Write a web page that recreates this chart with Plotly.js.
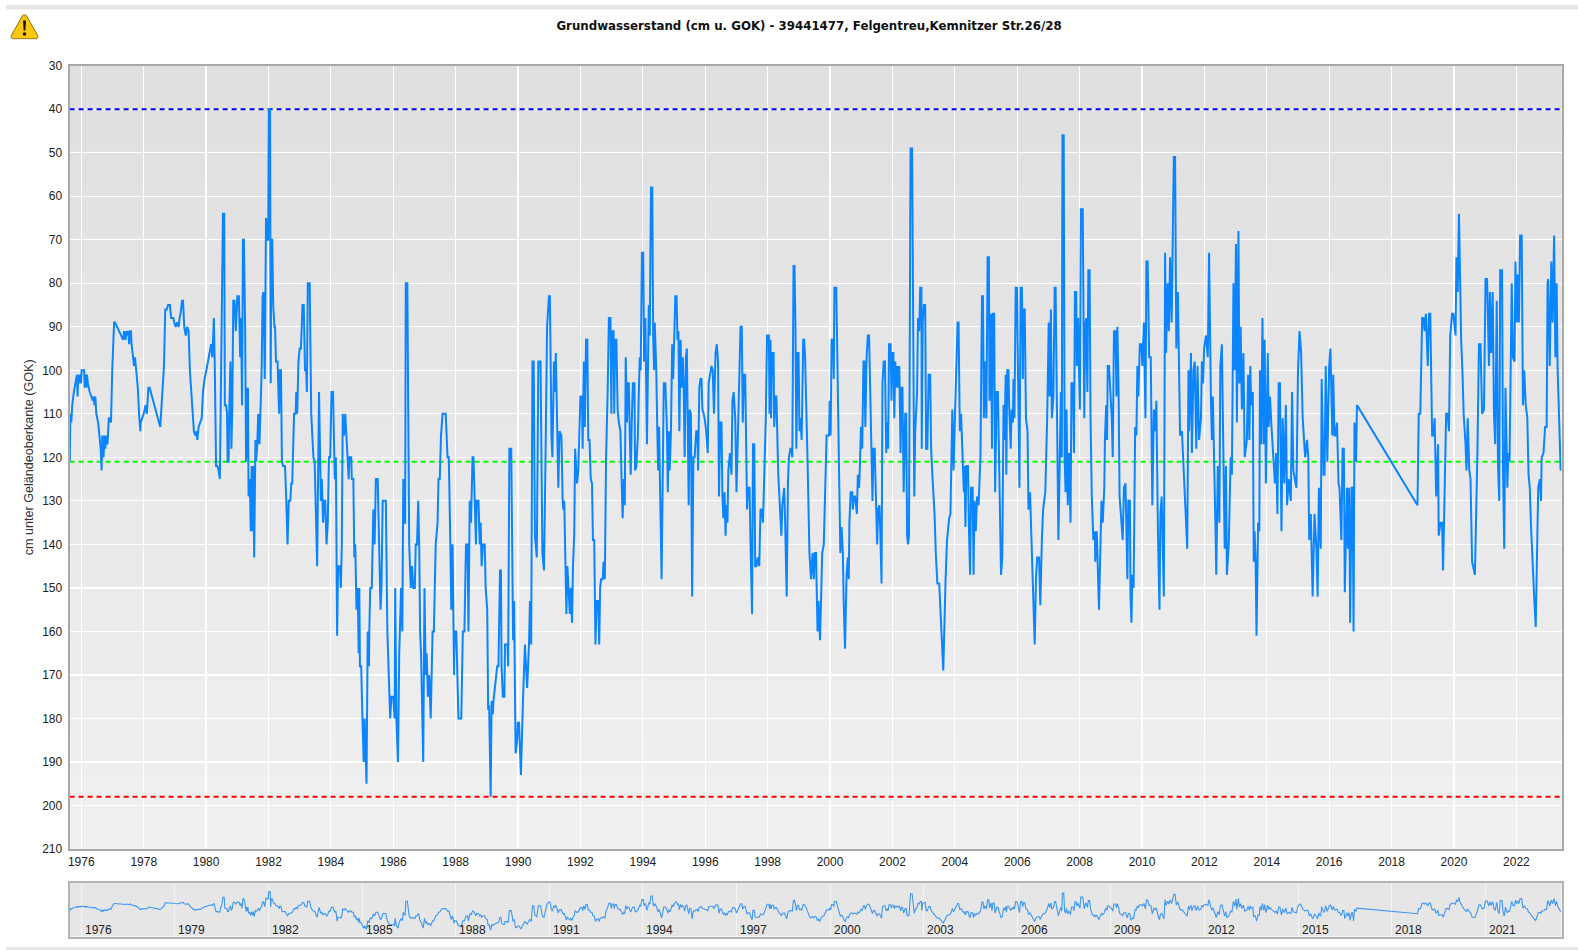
<!DOCTYPE html>
<html><head><meta charset="utf-8">
<script src="https://cdn.plot.ly/plotly-3.0.1.min.js"></script>
<style>html,body{margin:0;padding:0;background:#fff}#chart{width:1578px;height:950px}</style>
</head><body><div id="chart"></div>
<script>
const chartTitle = "Grundwasserstand (cm u. GOK) - 39441477, Felgentreu,Kemnitzer Str.26/28";
const yAxisTitle = "cm unter Geländeoberkante (GOK)";
const highLevel = 40, meanLevel = 121, lowLevel = 198;
const overviewYears = [1976,1979,1982,1985,1988,1991,1994,1997,2000,2003,2006,2009,2012,2015,2018,2021];

// [decimal year, cm below ground]
const levels1975to1979 = [[1975.63,121],[1975.65,110],[1975.68,112],[1975.71,108],[1975.76,105],[1975.82,103],[1975.86,101],[1975.88,106],[1975.90,101],[1975.95,103],[1975.97,101],[1975.99,103],[1976.01,100],[1976.09,100],[1976.11,104],[1976.14,101],[1976.16,104],[1976.18,101],[1976.21,103],[1976.27,105],[1976.32,106],[1976.37,107],[1976.40,106],[1976.42,108],[1976.45,106],[1976.48,110],[1976.54,112],[1976.59,115],[1976.62,118],[1976.65,123],[1976.67,115],[1976.71,120],[1976.74,115],[1976.77,118],[1976.80,115],[1976.84,117],[1976.88,111],[1976.91,111],[1976.95,112],[1976.99,100],[1977.05,89],[1977.08,89],[1977.34,93],[1977.37,91],[1977.42,93],[1977.44,91],[1977.47,92],[1977.51,91],[1977.53,94],[1977.56,91],[1977.59,91],[1977.61,94],[1977.66,97],[1977.69,99],[1977.72,97],[1977.75,99],[1977.81,104],[1977.85,110],[1977.89,114],[1977.90,112],[1977.96,111],[1978.00,110],[1978.06,108],[1978.10,110],[1978.15,104],[1978.19,104],[1978.53,113],[1978.56,110],[1978.61,103],[1978.65,99],[1978.69,86],[1978.74,86],[1978.78,85],[1978.84,85],[1978.88,88],[1978.95,88],[1978.98,89],[1979.02,90],[1979.07,89],[1979.12,90],[1979.15,88],[1979.18,87],[1979.23,84],[1979.26,84],[1979.30,90],[1979.35,92],[1979.39,90],[1979.44,91],[1979.48,100],[1979.53,106],[1979.57,110],[1979.61,114],[1979.65,115],[1979.69,114],[1979.72,116],[1979.76,113],[1979.81,112],[1979.86,111],[1979.90,105],[1979.95,102]];
const levels1980to1983 = [[1980.01,100],[1980.09,97],[1980.16,94],[1980.20,97],[1980.25,88],[1980.28,100],[1980.32,122],[1980.36,122],[1980.40,123],[1980.44,125],[1980.47,105],[1980.50,98],[1980.54,64],[1980.58,64],[1980.60,108],[1980.64,108],[1980.67,110],[1980.69,121],[1980.72,121],[1980.74,110],[1980.78,98],[1980.81,118],[1980.84,108],[1980.87,84],[1980.91,84],[1980.95,91],[1981.00,83],[1981.05,83],[1981.09,97],[1981.12,88],[1981.15,108],[1981.18,70],[1981.21,70],[1981.25,90],[1981.28,121],[1981.30,104],[1981.32,120],[1981.34,104],[1981.36,129],[1981.40,125],[1981.43,137],[1981.46,122],[1981.49,137],[1981.51,122],[1981.54,143],[1981.58,116],[1981.60,121],[1981.64,117],[1981.67,110],[1981.71,117],[1981.74,110],[1981.78,100],[1981.81,83],[1981.84,82],[1981.88,102],[1981.92,65],[1981.95,70],[1981.99,70],[1982.01,40],[1982.05,40],[1982.07,103],[1982.09,70],[1982.12,70],[1982.15,85],[1982.19,90],[1982.21,90],[1982.24,98],[1982.29,98],[1982.34,110],[1982.36,100],[1982.40,100],[1982.43,121],[1982.47,122],[1982.53,122],[1982.57,130],[1982.61,140],[1982.65,130],[1982.70,130],[1982.73,126],[1982.76,126],[1982.82,110],[1982.87,110],[1982.89,105],[1982.92,110],[1982.96,98],[1983.00,95],[1983.04,95],[1983.09,85],[1983.13,85],[1983.17,100],[1983.21,100],[1983.23,105],[1983.26,80],[1983.32,80],[1983.37,110],[1983.44,120],[1983.48,121],[1983.51,130],[1983.56,145],[1983.62,105],[1983.68,130],[1983.71,125],[1983.75,135],[1983.79,130],[1983.82,130],[1983.86,140],[1983.90,135],[1983.94,120],[1983.98,120]];
const levels1984to1987 = [[1984.02,105],[1984.07,105],[1984.11,120],[1984.13,125],[1984.16,120],[1984.20,161],[1984.23,145],[1984.29,145],[1984.32,150],[1984.35,140],[1984.38,110],[1984.42,115],[1984.46,110],[1984.49,115],[1984.53,120],[1984.57,125],[1984.59,120],[1984.65,120],[1984.67,125],[1984.72,125],[1984.75,143],[1984.78,140],[1984.82,155],[1984.86,150],[1984.89,165],[1984.91,150],[1984.93,168],[1984.97,168],[1985.01,180],[1985.05,190],[1985.08,180],[1985.11,190],[1985.14,195],[1985.18,160],[1985.22,168],[1985.23,160],[1985.26,150],[1985.31,150],[1985.36,132],[1985.40,140],[1985.44,125],[1985.50,125],[1985.55,139],[1985.59,155],[1985.62,150],[1985.66,130],[1985.76,130],[1985.81,160],[1985.90,180],[1985.94,175],[1986.00,175],[1986.04,180],[1986.06,150],[1986.10,180],[1986.15,190],[1986.19,165],[1986.25,150],[1986.29,160],[1986.32,125],[1986.35,135],[1986.38,135],[1986.40,80],[1986.45,80],[1986.51,140],[1986.56,150],[1986.60,145],[1986.64,150],[1986.69,150],[1986.72,140],[1986.76,140],[1986.80,130],[1986.83,140],[1986.86,160],[1986.89,165],[1986.96,190],[1987.00,150],[1987.04,170],[1987.07,165],[1987.11,175],[1987.15,170],[1987.20,180],[1987.26,160],[1987.30,160],[1987.36,140],[1987.42,135],[1987.45,125],[1987.49,125],[1987.53,115],[1987.58,110],[1987.68,110],[1987.74,120],[1987.78,120],[1987.83,140],[1987.86,155],[1987.90,140],[1987.95,170],[1987.97,160]];
const levels1988to1991 = [[1988.02,160],[1988.09,180],[1988.18,180],[1988.23,160],[1988.28,160],[1988.33,140],[1988.38,140],[1988.41,160],[1988.45,130],[1988.49,135],[1988.54,120],[1988.57,120],[1988.62,130],[1988.65,140],[1988.67,130],[1988.73,130],[1988.77,140],[1988.80,135],[1988.83,145],[1988.87,140],[1988.93,140],[1988.96,150],[1989.01,155],[1989.04,178],[1989.07,177],[1989.12,198],[1989.15,176],[1989.19,179],[1989.21,176],[1989.26,172],[1989.33,168],[1989.37,168],[1989.42,146],[1989.45,146],[1989.47,168],[1989.51,175],[1989.56,175],[1989.58,163],[1989.66,163],[1989.68,168],[1989.72,118],[1989.78,118],[1989.82,140],[1989.84,162],[1989.87,153],[1989.92,188],[1989.97,185],[1989.99,181],[1990.03,181],[1990.09,193],[1990.16,175],[1990.22,163],[1990.29,173],[1990.35,163],[1990.38,153],[1990.42,163],[1990.46,98],[1990.50,98],[1990.54,138],[1990.60,143],[1990.65,98],[1990.72,98],[1990.78,142],[1990.83,146],[1990.88,120],[1990.93,90],[1990.99,83],[1991.02,83],[1991.07,115],[1991.10,120],[1991.15,98],[1991.18,105],[1991.21,96],[1991.27,114],[1991.29,127],[1991.33,114],[1991.39,115],[1991.43,130],[1991.45,132],[1991.48,130],[1991.55,156],[1991.58,145],[1991.62,150],[1991.66,156],[1991.69,150],[1991.73,158],[1991.76,145],[1991.80,138],[1991.83,118],[1991.86,123],[1991.89,126],[1991.93,123],[1991.97,110]];
const levels1992to1995 = [[1992.00,106],[1992.05,106],[1992.07,118],[1992.11,98],[1992.14,113],[1992.18,93],[1992.22,93],[1992.25,116],[1992.29,116],[1992.33,125],[1992.37,126],[1992.40,139],[1992.44,139],[1992.48,163],[1992.52,153],[1992.57,153],[1992.60,163],[1992.63,150],[1992.66,148],[1992.71,148],[1992.74,144],[1992.78,148],[1992.82,120],[1992.87,105],[1992.91,88],[1992.96,88],[1992.99,110],[1993.01,91],[1993.06,91],[1993.08,110],[1993.11,93],[1993.15,93],[1993.19,109],[1993.23,112],[1993.28,114],[1993.31,123],[1993.35,134],[1993.39,125],[1993.42,131],[1993.45,97],[1993.49,112],[1993.52,103],[1993.55,103],[1993.58,115],[1993.61,124],[1993.65,110],[1993.68,103],[1993.73,103],[1993.75,123],[1993.79,122],[1993.84,115],[1993.87,105],[1993.90,97],[1993.93,100],[1993.97,73],[1994.01,73],[1994.04,98],[1994.08,88],[1994.13,117],[1994.19,85],[1994.22,92],[1994.26,58],[1994.30,58],[1994.33,92],[1994.36,100],[1994.38,89],[1994.43,100],[1994.46,113],[1994.49,123],[1994.52,113],[1994.56,127],[1994.60,148],[1994.63,129],[1994.67,103],[1994.72,103],[1994.77,113],[1994.80,128],[1994.83,114],[1994.86,123],[1994.90,114],[1994.94,94],[1994.97,102],[1995.00,94],[1995.04,83],[1995.08,83],[1995.11,93],[1995.14,91],[1995.17,114],[1995.21,93],[1995.24,104],[1995.28,97],[1995.31,104],[1995.34,120],[1995.38,97],[1995.41,95],[1995.44,120],[1995.47,131],[1995.50,109],[1995.54,110],[1995.58,152],[1995.62,120],[1995.66,120],[1995.71,114],[1995.75,114],[1995.77,123],[1995.81,104],[1995.85,102],[1995.88,102],[1995.91,109],[1995.95,110],[1995.98,111]];
const levels1996to1999 = [[1996.03,114],[1996.08,119],[1996.11,103],[1996.16,100],[1996.20,99],[1996.24,100],[1996.28,110],[1996.33,96],[1996.37,94],[1996.41,98],[1996.44,129],[1996.48,112],[1996.52,112],[1996.55,129],[1996.58,134],[1996.62,128],[1996.65,138],[1996.68,131],[1996.71,135],[1996.74,123],[1996.79,119],[1996.84,124],[1996.87,107],[1996.91,105],[1996.96,111],[1997.00,128],[1997.04,117],[1997.09,100],[1997.13,90],[1997.17,90],[1997.20,112],[1997.24,101],[1997.28,101],[1997.31,117],[1997.34,132],[1997.37,127],[1997.42,127],[1997.45,140],[1997.50,156],[1997.53,117],[1997.57,117],[1997.60,145],[1997.64,145],[1997.68,143],[1997.73,145],[1997.77,132],[1997.81,132],[1997.85,135],[1997.90,124],[1997.94,111],[1997.98,92],[1998.04,92],[1998.06,110],[1998.09,93],[1998.11,111],[1998.14,96],[1998.19,96],[1998.21,113],[1998.25,106],[1998.28,106],[1998.34,124],[1998.38,130],[1998.44,138],[1998.47,131],[1998.53,127],[1998.56,135],[1998.61,152],[1998.65,126],[1998.68,120],[1998.73,118],[1998.76,118],[1998.79,120],[1998.83,76],[1998.86,76],[1998.89,89],[1998.92,118],[1998.96,96],[1998.99,96],[1999.02,114],[1999.05,111],[1999.09,116],[1999.14,93],[1999.17,93],[1999.20,97],[1999.23,105],[1999.28,121],[1999.34,142],[1999.39,148],[1999.44,142],[1999.48,148],[1999.51,142],[1999.55,142],[1999.60,160],[1999.63,153],[1999.68,162],[1999.71,149],[1999.75,142],[1999.80,140],[1999.83,129],[1999.86,123],[1999.89,115],[1999.93,115],[1999.97,115],[1999.99,107]];
const levels2000to2003 = [[2000.02,115],[2000.05,93],[2000.10,93],[2000.12,102],[2000.14,81],[2000.20,81],[2000.22,90],[2000.25,98],[2000.27,115],[2000.31,123],[2000.33,142],[2000.37,136],[2000.41,142],[2000.44,154],[2000.48,164],[2000.53,147],[2000.57,143],[2000.60,148],[2000.62,135],[2000.66,128],[2000.71,128],[2000.73,132],[2000.76,129],[2000.80,129],[2000.86,133],[2000.89,124],[2000.93,127],[2000.96,121],[2000.99,113],[2001.03,118],[2001.07,98],[2001.10,98],[2001.13,113],[2001.17,97],[2001.21,92],[2001.25,92],[2001.29,108],[2001.34,119],[2001.36,130],[2001.39,118],[2001.43,118],[2001.48,132],[2001.51,140],[2001.54,132],[2001.58,131],[2001.61,137],[2001.65,149],[2001.68,103],[2001.72,98],[2001.76,98],[2001.80,119],[2001.83,112],[2001.86,118],[2001.89,94],[2001.94,94],[2001.97,107],[2001.99,96],[2002.03,96],[2002.06,111],[2002.09,98],[2002.12,104],[2002.16,99],[2002.19,104],[2002.22,99],[2002.26,119],[2002.29,104],[2002.32,104],[2002.36,128],[2002.41,110],[2002.44,110],[2002.47,138],[2002.50,140],[2002.53,138],[2002.58,49],[2002.63,49],[2002.70,129],[2002.73,114],[2002.79,105],[2002.82,88],[2002.86,91],[2002.89,81],[2002.93,81],[2002.94,118],[2002.97,89],[2003.01,85],[2003.05,85],[2003.08,118],[2003.12,118],[2003.16,101],[2003.21,101],[2003.24,118],[2003.28,124],[2003.35,133],[2003.39,142],[2003.44,149],[2003.50,149],[2003.63,169],[2003.70,149],[2003.75,139],[2003.82,134],[2003.86,133],[2003.92,109],[2003.96,123]];
const levels2004to2007 = [[2004.01,109],[2004.09,89],[2004.12,89],[2004.16,114],[2004.20,110],[2004.24,119],[2004.29,128],[2004.31,122],[2004.34,136],[2004.37,122],[2004.42,122],[2004.45,136],[2004.49,147],[2004.52,127],[2004.57,127],[2004.60,147],[2004.63,130],[2004.67,137],[2004.71,129],[2004.76,131],[2004.82,120],[2004.87,83],[2004.90,83],[2004.93,111],[2004.96,98],[2005.01,111],[2005.05,74],[2005.09,74],[2005.11,107],[2005.16,87],[2005.19,118],[2005.22,87],[2005.26,87],[2005.29,128],[2005.34,105],[2005.38,105],[2005.42,121],[2005.48,147],[2005.52,143],[2005.56,108],[2005.59,116],[2005.63,101],[2005.65,124],[2005.68,100],[2005.72,100],[2005.74,108],[2005.79,118],[2005.82,109],[2005.86,112],[2005.88,102],[2005.91,111],[2005.95,81],[2005.99,81],[2006.03,100],[2006.07,127],[2006.11,81],[2006.15,81],[2006.18,102],[2006.20,86],[2006.24,86],[2006.28,111],[2006.33,114],[2006.36,132],[2006.41,128],[2006.47,142],[2006.51,156],[2006.56,163],[2006.60,148],[2006.64,143],[2006.70,143],[2006.74,154],[2006.79,139],[2006.83,132],[2006.90,128],[2006.96,111],[2007.01,89],[2007.04,106],[2007.08,86],[2007.11,111],[2007.16,106],[2007.20,81],[2007.23,81],[2007.27,111],[2007.32,139],[2007.36,122],[2007.40,105],[2007.43,120],[2007.45,46],[2007.49,46],[2007.52,120],[2007.55,128],[2007.58,109],[2007.62,131],[2007.66,119],[2007.71,135],[2007.74,103],[2007.79,103],[2007.82,119],[2007.85,82],[2007.89,82],[2007.91,99],[2007.95,88],[2007.98,99]];
const levels2008to2011 = [[2008.01,109],[2008.04,63],[2008.10,63],[2008.15,111],[2008.18,90],[2008.21,88],[2008.25,105],[2008.28,77],[2008.32,77],[2008.35,111],[2008.39,129],[2008.44,139],[2008.49,137],[2008.50,144],[2008.55,137],[2008.62,155],[2008.70,130],[2008.74,135],[2008.79,127],[2008.81,116],[2008.85,108],[2008.88,116],[2008.90,99],[2008.94,99],[2008.97,103],[2009.03,111],[2009.06,120],[2009.10,91],[2009.15,91],[2009.18,106],[2009.21,90],[2009.25,106],[2009.28,129],[2009.34,136],[2009.38,139],[2009.42,127],[2009.47,126],[2009.53,148],[2009.56,130],[2009.61,130],[2009.63,152],[2009.66,158],[2009.69,147],[2009.73,150],[2009.78,113],[2009.82,115],[2009.85,99],[2009.88,106],[2009.93,94],[2009.98,94],[2010.01,99],[2010.06,89],[2010.11,111],[2010.14,75],[2010.18,75],[2010.23,97],[2010.28,97],[2010.33,131],[2010.38,109],[2010.42,114],[2010.46,107],[2010.51,137],[2010.56,155],[2010.59,133],[2010.63,129],[2010.70,152],[2010.74,73],[2010.77,96],[2010.82,80],[2010.86,91],[2010.90,74],[2010.95,89],[2011.02,51],[2011.06,51],[2011.10,95],[2011.15,82],[2011.19,100],[2011.22,115],[2011.28,114],[2011.32,120],[2011.40,135],[2011.45,141],[2011.49,100],[2011.51,114],[2011.57,96],[2011.60,119],[2011.65,100],[2011.69,98],[2011.74,118],[2011.78,99],[2011.83,116],[2011.89,111],[2011.92,98],[2011.96,103],[2011.99,95]];
const levels2012to2015 = [[2012.05,92],[2012.11,97],[2012.15,73],[2012.21,107],[2012.24,116],[2012.27,106],[2012.33,124],[2012.36,138],[2012.38,147],[2012.43,122],[2012.48,135],[2012.51,99],[2012.56,94],[2012.60,121],[2012.65,141],[2012.69,122],[2012.72,147],[2012.78,140],[2012.84,120],[2012.88,124],[2012.93,80],[2012.97,100],[2013.01,71],[2013.04,112],[2013.09,68],[2013.12,103],[2013.16,90],[2013.20,109],[2013.25,96],[2013.29,120],[2013.36,116],[2013.40,101],[2013.44,116],[2013.47,99],[2013.50,108],[2013.55,105],[2013.58,144],[2013.61,137],[2013.64,144],[2013.67,161],[2013.72,135],[2013.76,137],[2013.78,100],[2013.82,117],[2013.86,88],[2013.90,117],[2013.93,93],[2013.97,126],[2014.03,96],[2014.06,113],[2014.10,106],[2014.15,113],[2014.21,122],[2014.26,126],[2014.30,119],[2014.34,133],[2014.38,103],[2014.42,103],[2014.47,137],[2014.51,111],[2014.56,126],[2014.61,108],[2014.65,131],[2014.70,125],[2014.77,130],[2014.81,105],[2014.85,123],[2014.91,126],[2014.95,127],[2015.00,100],[2015.05,91],[2015.10,96],[2015.15,111],[2015.23,120],[2015.29,116],[2015.33,120],[2015.36,139],[2015.41,133],[2015.47,152],[2015.53,133],[2015.59,141],[2015.63,152],[2015.67,127],[2015.69,135],[2015.73,141],[2015.76,102],[2015.82,124],[2015.85,124],[2015.89,99],[2015.94,121]];
const levels2016to2019 = [[2016.00,99],[2016.04,95],[2016.10,115],[2016.13,101],[2016.17,115],[2016.21,115],[2016.25,112],[2016.30,126],[2016.33,127],[2016.39,139],[2016.43,118],[2016.47,118],[2016.50,151],[2016.57,127],[2016.60,141],[2016.64,127],[2016.67,158],[2016.72,127],[2016.75,127],[2016.78,160],[2016.81,112],[2016.86,121],[2016.89,108],[2018.83,131],[2018.87,110],[2018.92,110],[2018.98,88],[2019.02,88],[2019.06,91],[2019.10,87],[2019.16,99],[2019.20,87],[2019.24,87],[2019.30,115],[2019.34,115],[2019.38,111],[2019.43,129],[2019.49,117],[2019.51,138],[2019.57,135],[2019.62,135],[2019.65,146],[2019.70,127],[2019.75,110],[2019.80,110],[2019.84,114],[2019.88,92],[2019.94,87],[2019.98,87]];
const levels2020to2023 = [[2020.05,92],[2020.08,74],[2020.12,82],[2020.16,64],[2020.19,82],[2020.23,93],[2020.27,100],[2020.31,110],[2020.37,117],[2020.40,123],[2020.44,111],[2020.49,123],[2020.53,125],[2020.58,144],[2020.67,147],[2020.71,135],[2020.75,119],[2020.80,94],[2020.85,94],[2020.90,110],[2020.96,109],[2021.01,79],[2021.06,79],[2021.12,99],[2021.15,82],[2021.19,96],[2021.24,82],[2021.28,110],[2021.32,117],[2021.37,84],[2021.41,122],[2021.45,130],[2021.48,77],[2021.54,77],[2021.57,122],[2021.61,141],[2021.65,104],[2021.71,127],[2021.74,119],[2021.78,121],[2021.82,97],[2021.85,80],[2021.89,97],[2021.94,98],[2021.97,75],[2022.01,89],[2022.04,78],[2022.08,89],[2022.12,69],[2022.17,69],[2022.21,108],[2022.25,100],[2022.30,108],[2022.35,111],[2022.39,124],[2022.43,127],[2022.47,136],[2022.51,144],[2022.57,152],[2022.62,159],[2022.66,138],[2022.70,127],[2022.75,125],[2022.79,130],[2022.81,120],[2022.87,119],[2022.92,113],[2022.97,113],[2023.00,80],[2023.02,79],[2023.07,99],[2023.12,75],[2023.16,89],[2023.21,69],[2023.25,97],[2023.29,80],[2023.32,99],[2023.39,118],[2023.42,123]];

const allLevels = [].concat(levels1975to1979,levels1980to1983,levels1984to1987,levels1988to1991,levels1992to1995,levels1996to1999,levels2000to2003,levels2004to2007,levels2008to2011,levels2012to2015,levels2016to2019,levels2020to2023);
function toDate(dec){
  const y=Math.floor(dec), s=Date.UTC(y,0,1), e=Date.UTC(y+1,0,1);
  return new Date(s+(dec-y)*(e-s)).toISOString().slice(0,19).replace('T',' ');
}
const xs = allLevels.map(p=>toDate(p[0]));
const ys = allLevels.map(p=>p[1]);
const xRange = [toDate(1975.625), toDate(2023.45)];

const W=1578,H=950;
const fx=p=>p/W, fy=p=>1-p/H;
const axisFont={family:'"Liberation Sans",Arial,sans-serif',size:12,color:'#222'};
const lineBlue='#0a84ff';

function ref(level,color){
  return {x:xRange,y:[level,level],xaxis:'x',yaxis:'y',mode:'lines',hoverinfo:'skip',
    line:{color:color,width:2,dash:'5px,4px'}};
}
const traces=[
  ref(highLevel,'#0000ff'),ref(meanLevel,'#00ff00'),ref(lowLevel,'#ff0000'),
  {x:xs,y:ys,xaxis:'x',yaxis:'y',mode:'lines',line:{color:lineBlue,width:2,shape:'linear'}},
  {x:xs,y:ys,xaxis:'x2',yaxis:'y2',mode:'lines',line:{color:'#3c97f5',width:1.1,shape:'linear'}}
];

// vertical grey gradient of the main plot, bands drawn beneath the grid
const shapes=[];
const bands=60;
for(let i=0;i<bands;i++){
  const t=i/(bands-1), c=Math.round(223+t*(240-223));
  shapes.push({type:'rect',xref:'x domain',yref:'y domain',layer:'below',x0:0,x1:1,
    y1:1-i/bands,y0:1-(i+1.3)/bands<0?0:1-(i+1.3)/bands,line:{width:0},fillcolor:`rgb(${c},${c},${c})`});
}
// page separators
shapes.push({type:'rect',xref:'paper',yref:'paper',x0:fx(6),x1:1,y0:fy(9.5),y1:fy(5),line:{width:0},fillcolor:'#e6e6e6'});
shapes.push({type:'rect',xref:'paper',yref:'paper',x0:fx(6),x1:1,y0:0,y1:fy(947),line:{width:0},fillcolor:'#e6e6e6'});

const icon='<svg xmlns="http://www.w3.org/2000/svg" viewBox="0 0 30 26"><path d="M15 1.2c-1 0-1.7.6-2.2 1.4L1.4 22c-.9 1.6.1 3.3 1.9 3.3h23.4c1.8 0 2.8-1.7 1.9-3.3L17.2 2.6C16.7 1.8 16 1.2 15 1.2z" fill="#ffc80a" stroke="#8a6a10" stroke-width="1"/><path d="M13.5 7h3l-.6 10h-1.8z" fill="#111"/><circle cx="15" cy="20.5" r="1.8" fill="#111"/></svg>';

const annotations=overviewYears.map(y=>({
  text:String(y),x:toDate(y),xref:'x2',yref:'paper',y:fy(929.5),xanchor:'left',yanchor:'middle',
  xshift:1.5,showarrow:false,font:axisFont
}));

const layout={
  width:W,height:H,margin:{l:0,r:0,t:0,b:0},paper_bgcolor:'#fff',plot_bgcolor:'#e6e6e6',showlegend:false,hovermode:false,
  title:{text:'<b>'+chartTitle+'</b>',x:fx(809),y:fy(25.5),xref:'paper',yref:'paper',xanchor:'center',yanchor:'middle',
    font:{family:'"DejaVu Sans",Verdana,sans-serif',size:11.8,color:'#111'}},
  xaxis:{domain:[fx(69.6),fx(1561.6)],range:xRange,type:'date',tick0:'1976-01-01',dtick:'M24',tickformat:'%Y',
    showgrid:true,gridcolor:'#ffffff',gridwidth:1.2,zeroline:false,showline:true,linecolor:'#a8a8a8',linewidth:2,mirror:true,
    ticks:'outside',ticklen:1,tickcolor:'rgba(0,0,0,0)',tickfont:axisFont,anchor:'y',automargin:false},
  yaxis:{domain:[fy(849),fy(65.7)],range:[210,30],tick0:30,dtick:10,
    showgrid:true,gridcolor:'#ffffff',gridwidth:1.2,zeroline:false,showline:true,linecolor:'#a8a8a8',linewidth:2,mirror:true,
    ticks:'outside',ticklen:3,tickcolor:'rgba(0,0,0,0)',tickfont:axisFont,anchor:'x',automargin:false,
    title:{text:yAxisTitle,font:Object.assign({},axisFont,{size:12.6,color:'#333'}),standoff:6}},
  xaxis2:{domain:[fx(69.6),fx(1561.6)],range:xRange,type:'date',tick0:'1976-01-01',dtick:'M36',
    showgrid:true,gridcolor:'#f4f4f4',gridwidth:1,showticklabels:false,ticks:'',zeroline:false,showline:true,linecolor:'#b4b4b4',linewidth:2,mirror:true,anchor:'y2'},
  yaxis2:{domain:[fy(936.5),fy(882.5)],range:[224,3],showgrid:false,showticklabels:false,ticks:'',zeroline:false,showline:true,linecolor:'#b4b4b4',linewidth:2,mirror:true,anchor:'x2'},
  shapes:shapes,annotations:annotations,
  images:[{source:'data:image/svg+xml;utf8,'+encodeURIComponent(icon),xref:'paper',yref:'paper',x:fx(10),y:fy(13.5),sizex:fx(29),sizey:26/H,sizing:'stretch',xanchor:'left',yanchor:'top',layer:'above'}]
};
Plotly.newPlot('chart',traces,layout,{displayModeBar:false,staticPlot:true});
</script></body></html>
